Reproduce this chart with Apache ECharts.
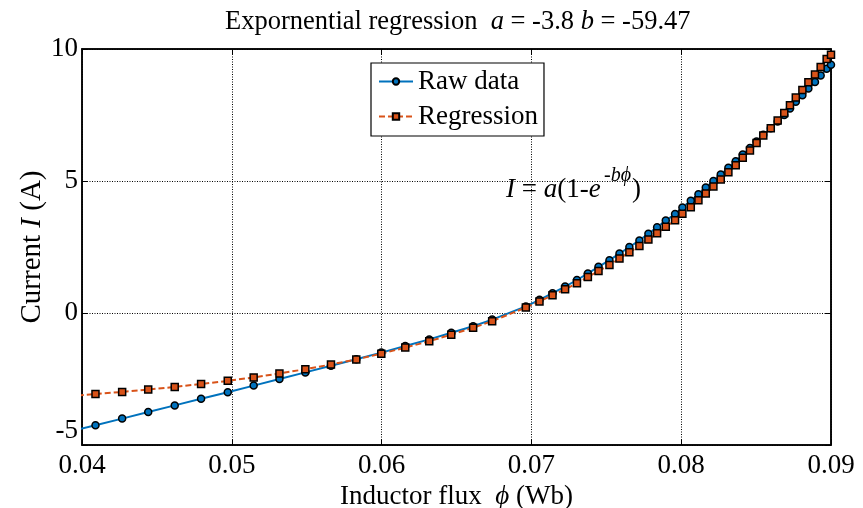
<!DOCTYPE html>
<html>
<head>
<meta charset="utf-8">
<script src="https://cdn.jsdelivr.net/npm/echarts@6/dist/echarts.min.js"></script>
<style>
html,body{margin:0;padding:0;background:#fff;}
#chart{width:863px;height:508px;}
</style>
</head>
<body>
<div id="chart"></div>
<script>
// Inductor flux (Wb) at each sample
const phi = [0.03912, 0.04090, 0.04268, 0.04442, 0.04619, 0.04795, 0.04973, 0.05146, 0.05318, 0.05491,
  0.05662, 0.05831, 0.05998, 0.06158, 0.06318, 0.06465, 0.06611, 0.06738,
  0.06963, 0.07054, 0.07141, 0.07225, 0.07304, 0.07377, 0.07448, 0.07521, 0.07588, 0.07654,
  0.07721, 0.07781, 0.07839, 0.07897, 0.07959, 0.08008, 0.08064, 0.08115, 0.08164, 0.08215,
  0.08264, 0.08315, 0.08364, 0.08411, 0.08459, 0.08503, 0.08548, 0.08598, 0.08644, 0.08688,
  0.08726, 0.08765, 0.08809, 0.08849, 0.08893, 0.08931, 0.08971, 0.09000];
// Raw data current (A)
const rawCurrent = [-4.5, -4.25, -4.0, -3.75, -3.5, -3.25, -3.0, -2.75, -2.5, -2.25,
  -2.0, -1.75, -1.5, -1.25, -1.0, -0.75, -0.5, -0.25,
  0.25, 0.5, 0.75, 1.0, 1.25, 1.5, 1.75, 2.0, 2.25, 2.5,
  2.75, 3.0, 3.25, 3.5, 3.75, 4.0, 4.25, 4.5, 4.75, 5.0,
  5.25, 5.5, 5.75, 6.0, 6.25, 6.5, 6.75, 7.0, 7.25, 7.5,
  7.75, 8.0, 8.25, 8.5, 8.75, 9.0, 9.25, 9.4];
// Regression current (A)
const regCurrent = [-3.15, -3.07, -2.99, -2.90, -2.80, -2.69, -2.57, -2.44, -2.29, -2.13,
  -1.95, -1.76, -1.54, -1.31, -1.07, -0.82, -0.56, -0.31,
  0.21, 0.44, 0.67, 0.90, 1.13, 1.36, 1.59, 1.82, 2.06, 2.30,
  2.54, 2.78, 3.02, 3.27, 3.51, 3.76, 4.01, 4.27, 4.53, 4.79,
  5.06, 5.33, 5.60, 5.88, 6.16, 6.44, 6.72, 7.00, 7.29, 7.58,
  7.87, 8.16, 8.45, 8.74, 9.03, 9.32, 9.62, 9.78];
const seriesNames = ['Raw data', 'Regression'];
const xTicks = {min: 0.04, max: 0.09, interval: 0.01};
const yTicks = {min: -5, max: 10, interval: 5};

const FONT = '"Liberation Serif", "Times New Roman", "DejaVu Serif", serif';
const FS = 27;
const chart = echarts.init(document.getElementById('chart'), null, {renderer: 'canvas'});

const rawData = phi.map((p, i) => [p, rawCurrent[i]]);
const regData = phi.map((p, i) => [p, regCurrent[i]]);

const gridL = 82, gridR = 32, gridT = 49, gridB = 63;
const richN = {fontFamily: FONT, fontSize: FS, fontWeight: 'normal', color: '#000'};
const richI = {fontFamily: FONT, fontSize: FS, fontWeight: 'normal', fontStyle: 'italic', color: '#000'};
const richTN = Object.assign({}, richN, {fontSize: 26.5});
const richTI = Object.assign({}, richI, {fontSize: 26.5});
const richYN = Object.assign({}, richN, {fontSize: 29});
const richYI = Object.assign({}, richI, {fontSize: 29});

chart.setOption({
  backgroundColor: '#fff',
  animation: false,
  textStyle: {fontFamily: FONT, color: '#000'},
  title: {
    left: 220, top: 4,
    text: '{n|Expornential regression  }{i|a}{n| = -3.8 }{i|b}{n| = -59.47}',
    textStyle: {fontFamily: FONT, fontWeight: 'normal', rich: {n: richTN, i: richTI}}
  },
  grid: {left: gridL, right: gridR, top: gridT, bottom: gridB, show: true, borderColor: '#000', borderWidth: 1.5,
    backgroundColor: 'transparent', containLabel: false, outerBoundsMode: 'none'},
  legend: {
    orient: 'vertical', left: 371, top: 63,
    data: seriesNames,
    backgroundColor: '#fff',
    borderColor: '#000', borderWidth: 1.2,
    padding: [5, 6, 6, 7],
    itemGap: 8,
    itemWidth: 34, itemHeight: 8,
    textStyle: {fontFamily: FONT, fontSize: FS, color: '#000'}
  },
  xAxis: [{
    type: 'value', min: xTicks.min, max: xTicks.max, interval: xTicks.interval,
    position: 'bottom',
    name: '{n|Inductor flux  }{i|ϕ}{n| (Wb)}',
    nameLocation: 'middle', nameGap: 28,
    nameTextStyle: {rich: {n: richN, i: richI}},
    axisLine: {show: true, onZero: false, lineStyle: {color: '#000', width: 1.5}},
    axisTick: {show: true, inside: true, length: 6, lineStyle: {color: '#000'}},
    axisLabel: {fontFamily: FONT, fontSize: FS, color: '#000', margin: 7,
      formatter: v => v.toFixed(2)},
    splitLine: {show: true, lineStyle: {color: '#000', type: [1, 1.5], width: 1}}
  }, {
    type: 'value', min: xTicks.min, max: xTicks.max, interval: xTicks.interval,
    position: 'top',
    axisLine: {show: true, onZero: false, lineStyle: {color: '#000', width: 1.5}},
    axisTick: {show: true, inside: true, length: 6, lineStyle: {color: '#000'}},
    axisLabel: {show: false}, splitLine: {show: false}
  }],
  yAxis: [{
    type: 'value', min: yTicks.min, max: yTicks.max, interval: yTicks.interval,
    position: 'left',
    name: '{n|Current }{i|I}{n| (A)}',
    nameLocation: 'middle', nameGap: 35, nameRotate: 90, nameMoveOverlap: false,
    nameTextStyle: {rich: {n: richYN, i: richYI}},
    axisLine: {show: true, onZero: false, lineStyle: {color: '#000', width: 1.5}},
    axisTick: {show: true, inside: true, length: 6, lineStyle: {color: '#000'}},
    axisLabel: {fontFamily: FONT, fontSize: FS, color: '#000', margin: 4,
      formatter: v => v === -5 ? '{low|' + v + '}' : '{t|' + v + '}',
      rich: {
        t: {fontFamily: FONT, fontSize: FS, color: '#000'},
        low: {fontFamily: FONT, fontSize: FS, color: '#000', padding: [0, 0, 28, 0]}
      }},
    splitLine: {show: true, lineStyle: {color: '#000', type: [1, 1.5], width: 1}}
  }, {
    type: 'value', min: yTicks.min, max: yTicks.max, interval: yTicks.interval,
    position: 'right',
    axisLine: {show: true, onZero: false, lineStyle: {color: '#000', width: 1.5}},
    axisTick: {show: true, inside: true, length: 6, lineStyle: {color: '#000'}},
    axisLabel: {show: false}, splitLine: {show: false}
  }],
  series: [{
    name: seriesNames[0], type: 'line', data: rawData, clip: true,
    symbol: 'circle', symbolSize: 7, showAllSymbol: true,
    lineStyle: {color: '#0072BD', width: 2},
    itemStyle: {color: '#0072BD', borderColor: '#000', borderWidth: 1.5},
    z: 2
  }, {
    name: seriesNames[1], type: 'line', data: regData, clip: true,
    symbol: 'rect', symbolSize: 7, showAllSymbol: true,
    lineStyle: {color: '#D95319', width: 2, type: [6, 3]},
    itemStyle: {color: '#D95319', borderColor: '#000', borderWidth: 1.5},
    z: 3
  }],
  graphic: [{
    type: 'text', x: 506, y: 190, z: 10,
    style: {
      text: '{i|I}{n| = }{i|a}{n|(1-}{i|e}',
      verticalAlign: 'middle',
      rich: {
        n: {fontFamily: FONT, fontSize: FS, fill: '#000'},
        i: {fontFamily: FONT, fontSize: FS, fontStyle: 'italic', fill: '#000'}
      }
    }
  }, {
    type: 'text', x: 604, y: 176, z: 10,
    style: {
      text: '{n|-}{i|bϕ}',
      verticalAlign: 'middle',
      rich: {
        n: {fontFamily: FONT, fontSize: 20, fill: '#000'},
        i: {fontFamily: FONT, fontSize: 20, fontStyle: 'italic', fill: '#000'}
      }
    }
  }, {
    type: 'text', x: 632, y: 190, z: 10,
    style: {text: ')', verticalAlign: 'middle', fontFamily: FONT, fontSize: FS, fill: '#000'}
  }]
});
</script>
</body>
</html>
